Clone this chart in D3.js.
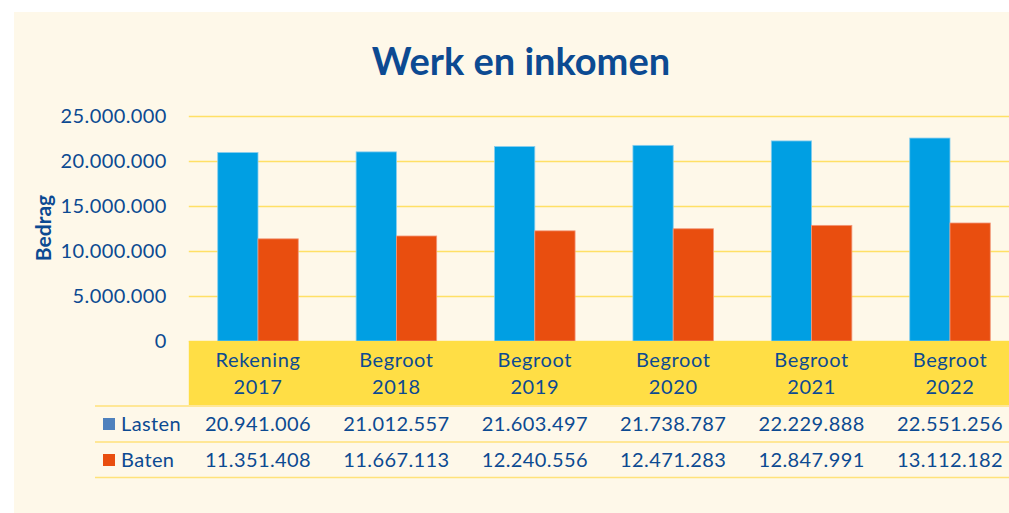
<!DOCTYPE html>
<html>
<head>
<meta charset="utf-8">
<script src="https://cdn.jsdelivr.net/npm/d3@7"></script>
<style>
  body { margin: 0; background: #fff; }
  svg text { font-family: Lato, "Open Sans", sans-serif; }
</style>
</head>
<body>
<svg id="chart" width="1009" height="513"></svg>
<script>
// data
const categories = [["Rekening", "2017"], ["Begroot", "2018"], ["Begroot", "2019"],
                    ["Begroot", "2020"], ["Begroot", "2021"], ["Begroot", "2022"]];
const seriesNames = ["Lasten", "Baten"];
const lasten = [20941006, 21012557, 21603497, 21738787, 22229888, 22551256];
const baten = [11351408, 11667113, 12240556, 12471283, 12847991, 13112182];
const yTicks = [0, 5000000, 10000000, 15000000, 20000000, 25000000];

const textColor = "#0c4a92";
const barColors = {Lasten: "#009fe3", Baten: "#e94e0f"};
const barStroke = {Lasten: "#86cdee", Baten: "#f2977a"};
const keyColors = {Lasten: "#4f81bd", Baten: "#e94e0f"};
const nl = d3.formatLocale({decimal: ",", thousands: ".", grouping: [3], currency: ["€", ""]});
const fmt = nl.format(",d");

const svg = d3.select("#chart");
svg.append("rect").attr("x", 14).attr("y", 12).attr("width", 995).attr("height", 501).attr("fill", "#fef8e9");

svg.append("text").attr("x", 521).attr("y", 75)
    .attr("text-anchor", "middle").attr("font-size", 38).attr("font-weight", "bold")
    .attr("fill", textColor).text("Werk en inkomen");

const plotLeft = 188.8, plotRight = 1019.2, plotTop = 116, plotBottom = 341;
const x = d3.scaleBand().domain(d3.range(categories.length)).range([plotLeft, plotRight])
    .paddingInner(0.418).paddingOuter(0.209);
const xs = d3.scaleBand().domain(seriesNames).range([0, x.bandwidth()]);
const y = d3.scaleLinear().domain([0, 25000000]).range([plotBottom, plotTop]);

// gridlines + labels
const yAxis = svg.append("g").attr("transform", `translate(${plotLeft},0)`)
    .call(d3.axisLeft(y).tickValues(yTicks).tickSize(-(plotRight - plotLeft)).tickPadding(22).tickFormat(fmt));
yAxis.select(".domain").remove();
yAxis.selectAll("line").attr("stroke", "#ffe066").attr("stroke-width", 1.4);
yAxis.selectAll("text").attr("fill", textColor).attr("font-size", 20)
    .attr("font-family", "Lato, sans-serif").attr("letter-spacing", 0.4);

svg.append("text").attr("transform", "translate(51,228) rotate(-90)")
    .attr("text-anchor", "middle").attr("font-size", 21).attr("font-weight", "bold")
    .attr("fill", textColor).text("Bedrag");

// bars
const rows = seriesNames.map((s, i) => ({name: s, values: i === 0 ? lasten : baten}));
rows.forEach(r => {
  svg.append("g").selectAll("rect").data(r.values).join("rect")
      .attr("x", (d, i) => x(i) + xs(r.name))
      .attr("y", d => y(d))
      .attr("width", xs.bandwidth())
      .attr("height", d => y(0) - y(d))
      .attr("fill", barColors[r.name])
      .attr("stroke", barStroke[r.name]).attr("stroke-width", 0.8);
});

// data table header
svg.append("rect").attr("x", plotLeft).attr("y", plotBottom).attr("width", 1009 - plotLeft).attr("height", 64)
    .attr("fill", "#ffde45");
const head = svg.append("g").selectAll("text").data(categories).join("text")
    .attr("text-anchor", "middle").attr("font-size", 20).attr("letter-spacing", 0.6).attr("fill", textColor);
head.append("tspan").attr("x", (d, i) => x(i) + x.bandwidth() / 2).attr("y", 367).text(d => d[0]);
head.append("tspan").attr("x", (d, i) => x(i) + x.bandwidth() / 2).attr("y", 394).text(d => d[1]);

// table rows
[406, 442, 477.5].forEach(ly => {
  svg.append("line").attr("x1", 95).attr("x2", 1009).attr("y1", ly).attr("y2", ly)
      .attr("stroke", "#ffe27a").attr("stroke-width", 1.4);
});
const rowY = [424, 460];
rows.forEach((r, k) => {
  svg.append("rect").attr("x", 103).attr("y", rowY[k] - 6).attr("width", 12).attr("height", 12)
      .attr("fill", keyColors[r.name]);
  svg.append("text").attr("x", 121).attr("y", rowY[k]).attr("dy", "0.35em")
      .attr("font-size", 20).attr("letter-spacing", 0.4).attr("fill", textColor).text(r.name);
  svg.append("g").selectAll("text").data(r.values).join("text")
      .attr("x", (d, i) => x(i) + x.bandwidth() / 2).attr("y", rowY[k]).attr("dy", "0.35em")
      .attr("text-anchor", "middle").attr("font-size", 20).attr("letter-spacing", 0.4).attr("fill", textColor)
      .text(d => fmt(d));
});
</script>
</body>
</html>
